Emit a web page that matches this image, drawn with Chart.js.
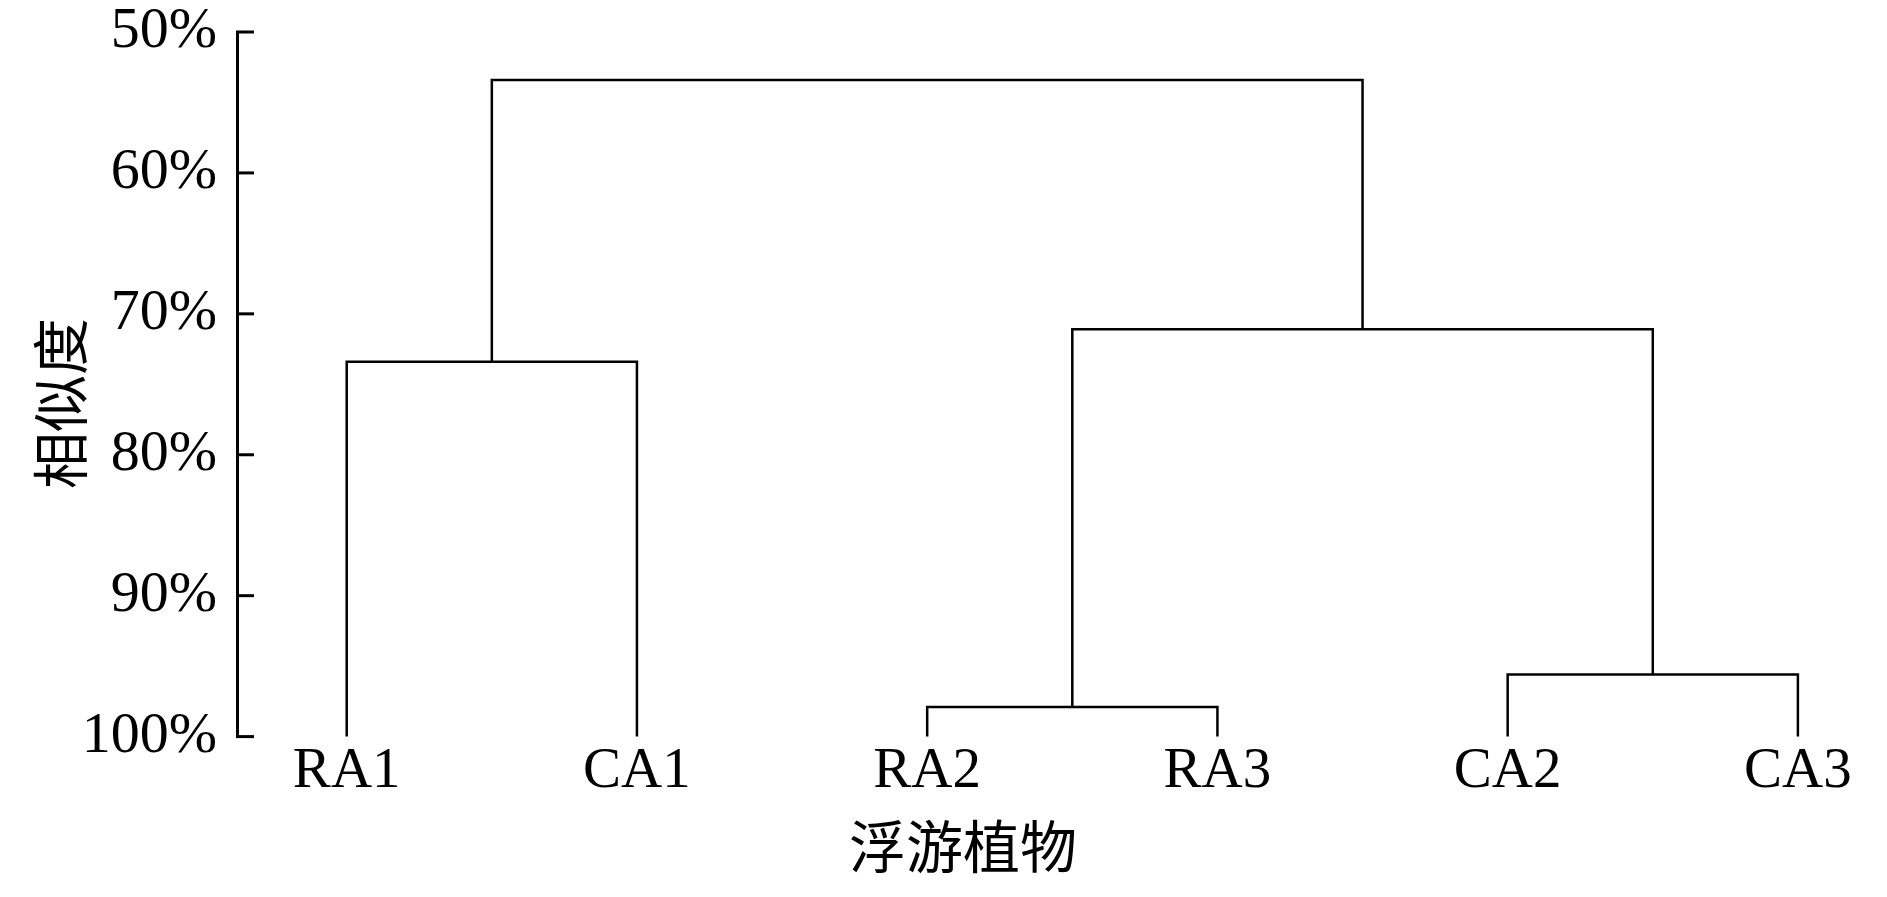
<!DOCTYPE html>
<html lang="zh">
<head>
<meta charset="UTF-8">
<title>浮游植物聚类</title>
<script src="https://cdn.jsdelivr.net/npm/chart.js"></script>
<style>
  html, body { margin: 0; padding: 0; background: #fff; }
  canvas { display: block; }
</style>
</head>
<body>
<canvas id="dendro" width="1887" height="897"></canvas>
<script>
// leaves along the bottom
const leafLabels = ['RA1', 'CA1', 'RA2', 'RA3', 'CA2', 'CA3'];
const leafPos = [1, 2, 3, 4, 5, 6];

// merges (similarity %): left child x/y, right child x/y, joining level
const mergeLeftX  = [1,   3,    5,    3.5,  1.5];
const mergeLeftY  = [100, 100,  100,  97.9, 73.4];
const mergeRightX = [2,   4,    6,    5.5,  4.5];
const mergeRightY = [100, 100,  100,  95.6, 71.1];
const mergeLevel  = [73.4, 97.9, 95.6, 71.1, 53.4];

const yTicks = [50, 60, 70, 80, 90, 100];

const serif = '"Liberation Serif", "Times New Roman", serif';
const cjk = '"Noto Sans CJK SC", sans-serif';

const datasets = mergeLevel.map((h, i) => ({
    data: [
        {x: mergeLeftX[i], y: mergeLeftY[i]},
        {x: mergeLeftX[i], y: h},
        {x: mergeRightX[i], y: h},
        {x: mergeRightX[i], y: mergeRightY[i]}
    ],
    showLine: true,
    borderColor: '#000',
    borderWidth: 2.5,
    borderJoinStyle: 'miter',
    pointRadius: 0,
    tension: 0,
    fill: false,
    clip: false
}));

// ticks on the y axis point inwards
const innerTicks = {
    id: 'innerTicks',
    afterDraw(chart) {
        const ctx = chart.ctx;
        const sy = chart.scales.y;
        const left = chart.chartArea.left;
        ctx.save();
        ctx.strokeStyle = '#000';
        ctx.lineWidth = 3;
        sy.ticks.forEach(t => {
            const py = sy.getPixelForValue(t.value);
            ctx.beginPath();
            ctx.moveTo(left - 1, py);
            ctx.lineTo(left + 17, py);
            ctx.stroke();
        });
        ctx.restore();
    }
};

new Chart(document.getElementById('dendro'), {
    type: 'scatter',
    data: { datasets },
    options: {
        responsive: false,
        animation: false,
        layout: { padding: { left: 39, right: 0, top: 32, bottom: 0 } },
        plugins: {
            legend: { display: false },
            tooltip: { enabled: false },
            title: {
                display: true,
                position: 'bottom',
                text: '浮游植物',
                color: '#000',
                font: { family: cjk, size: 57, weight: 'normal', lineHeight: 1.2 },
                padding: { top: 0, bottom: 16 }
            }
        },
        scales: {
            x: {
                type: 'linear',
                min: 0.622,
                max: 6.307,
                afterBuildTicks: s => { s.ticks = leafPos.map(v => ({ value: v })); },
                afterFit: s => { s.height = 76; },
                grid: { display: false },
                border: { display: false },
                ticks: {
                    padding: -7,
                    color: '#000',
                    font: { family: serif, size: 57 },
                    callback: v => leafLabels[leafPos.indexOf(v)]
                }
            },
            y: {
                type: 'linear',
                reverse: true,
                min: 50,
                max: 100,
                afterBuildTicks: s => { s.ticks = yTicks.map(v => ({ value: v })); },
                afterFit: s => { s.width = 198; },
                grid: { display: true, drawOnChartArea: false, drawTicks: false },
                border: { display: true, color: '#000', width: 3 },
                ticks: {
                    padding: 20,
                    color: '#000',
                    font: { family: serif, size: 58, lineHeight: 0.4 },
                    callback: v => v + '%'
                },
                title: {
                    display: true,
                    // trailing spaces nudge the rotated title a little lower
                    text: '相似度   ',
                    color: '#000',
                    font: { family: cjk, size: 57, lineHeight: 0.74 },
                    padding: 0
                }
            }
        }
    },
    plugins: [innerTicks]
});
</script>
</body>
</html>
